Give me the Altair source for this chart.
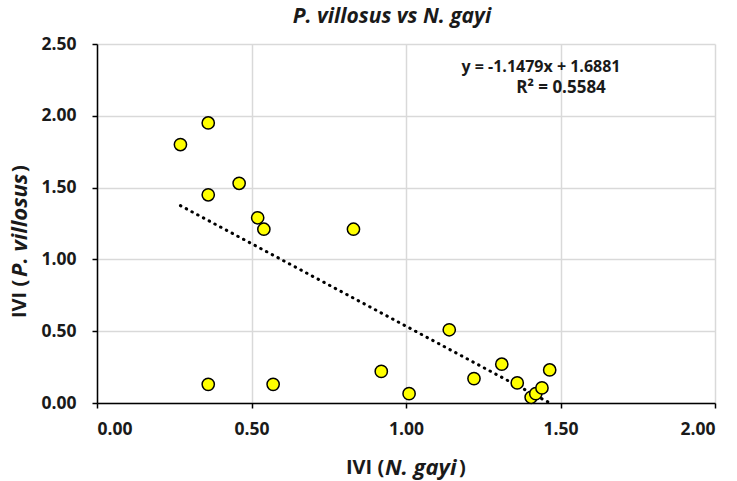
import altair as alt
import pandas as pd

# IVI values
ivi_gayi = [0.27, 0.36, 0.36, 0.46, 0.52, 0.54, 0.83, 0.36, 0.57, 0.92, 1.01,
            1.14, 1.22, 1.31, 1.36, 1.405, 1.42, 1.44, 1.465]
ivi_villosus = [1.80, 1.95, 1.45, 1.53, 1.29, 1.21, 1.21, 0.13, 0.13, 0.22, 0.065,
                0.51, 0.17, 0.27, 0.14, 0.04, 0.065, 0.105, 0.23]

eq_lines = ["y = -1.1479x + 1.6881", "R² = 0.5584"]

df = pd.DataFrame({"x": ivi_gayi, "y": ivi_villosus})

FONT = "Open Sans"
W, H = 618, 359

xs = alt.X("x:Q", scale=alt.Scale(domain=[0, 2], nice=False),
           axis=alt.Axis(values=[0, 0.5, 1, 1.5, 2], format=".2f", title=None))
ys = alt.Y("y:Q", scale=alt.Scale(domain=[0, 2.5], nice=False),
           axis=alt.Axis(values=[0, 0.5, 1, 1.5, 2, 2.5], format=".2f", title=None))

base = alt.Chart(df)

trend = base.transform_regression("x", "y", extent=[min(ivi_gayi), max(ivi_gayi)]).mark_line(
    color="black", strokeWidth=3, strokeDash=[0.5, 6], strokeCap="round"
).encode(x=xs, y=ys)

points = base.mark_point(
    shape="circle", size=150, filled=True, fill="#ffff00", stroke="black", strokeWidth=1.5, opacity=1
).encode(x=xs, y=ys)

def txt(text, x, y, size=18, style="normal", align="left", angle=0, baseline="middle"):
    kw = dict(text=text, font=FONT, fontSize=size, fontWeight="bold", fontStyle=style,
              align=align, baseline=baseline, color="#1a1a1a")
    if angle:
        kw["angle"] = angle
    return alt.Chart(pd.DataFrame({"a": [0]})).mark_text(**kw).encode(
        x=alt.value(x), y=alt.value(y))

anns = [
    txt("P. villosus vs N. gayi", 295, -27, size=21, style="italic", align="center"),
    txt(eq_lines[0], 444, 23, size=16, align="center"),
    txt(eq_lines[1], 464, 44, size=17, align="center"),
    # x title
    txt("IVI (", 249, 424, size=20),
    txt("N. gayi", 288, 424, size=22, style="italic"),
    txt(")", 362, 424, size=20),
    # y title
    txt("IVI (", -77, 274, size=20, angle=270),
    txt("P. villosus", -77, 233, size=22, style="italic", angle=270),
    txt(")", -77, 128, size=20, angle=270),
]

chart = alt.layer(trend, points, *anns).properties(
    width=W, height=H,
    autosize=alt.AutoSizeParams(type="none"),
    padding={"left": 97, "top": 44, "right": 22, "bottom": 78},
).configure_view(stroke=None).configure_axis(
    labelFont=FONT, labelFontSize=17.5, labelFontWeight="bold", labelColor="#1a1a1a",
    domainColor="black", domainWidth=1.5, tickColor="black", tickWidth=1.5, tickSize=5,
    gridColor="#d9d9d9", gridWidth=1.5
).configure_axisX(labelPadding=12).configure_axisY(labelPadding=16)

chart.save("out.html", embed_options={"renderer": "svg", "actions": False})
